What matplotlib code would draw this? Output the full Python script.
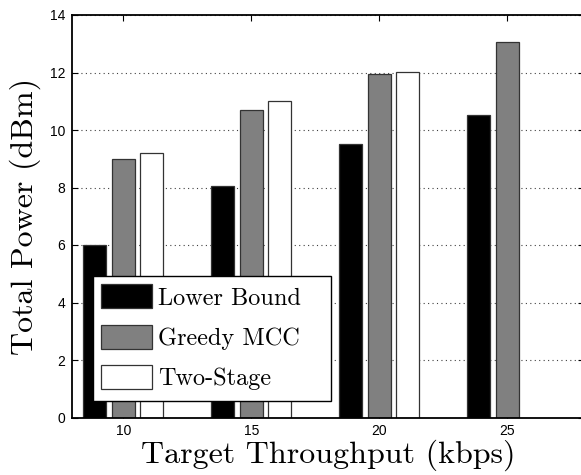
import numpy as np
import matplotlib

matplotlib.use("Agg")
import matplotlib.pyplot as plt
from matplotlib.patches import Rectangle

# data
throughput = [10, 15, 20, 25]
lower_bound = [6.0, 8.05, 9.5, 10.52]
greedy_mcc = [9.0, 10.7, 11.95, 13.05]
two_stage = [9.2, 11.0, 12.03, np.nan]  # no Two-Stage bar at 25 kbps

series = [
    ("Lower Bound", lower_bound, "black"),
    ("Greedy MCC", greedy_mcc, "#808080"),
    ("Two-Stage", two_stage, "white"),
]

fig = plt.figure(figsize=(5.81, 4.75), dpi=100)
ax = fig.add_axes([72 / 581, 1 - 417.5 / 475, 512 / 581, 402.5 / 475])

x = np.array(throughput, dtype=float)
offset = 1.11
width = 0.9
for i, (label, vals, color) in enumerate(series):
    ax.bar(x + (i - 1) * offset, vals, width, color=color,
           edgecolor="#333333", linewidth=0.9, label=label, zorder=2)

ax.set_xlim(8, 28)
ax.set_ylim(0, 14)
ax.set_xticks(throughput)
ax.set_yticks(np.arange(0, 15, 2))
ax.tick_params(direction="in", top=True, right=True, length=4, width=0.8,
               labelsize=10, pad=5)
for lab in ax.get_xticklabels() + ax.get_yticklabels():
    lab.set_fontfamily("Liberation Sans")
ax.yaxis.grid(True, linestyle=(0, (1, 3)), color="0.25", linewidth=0.8, zorder=0)
ax.set_axisbelow(True)
for sp in ax.spines.values():
    sp.set_linewidth(1.3)

ax.set_xlabel("Target Throughput (kbps)", fontfamily="cmr10", fontsize=23, labelpad=1)
ax.set_ylabel("Total Power (dBm)", fontfamily="cmr10", fontsize=23, labelpad=6)

# MATLAB-style legend box: wider on the right than the entries need
box = (0.0404, 0.041, 0.465, 0.311)
ax.add_patch(Rectangle(box[:2], box[2], box[3], transform=ax.transAxes,
                       facecolor="white", edgecolor="black", linewidth=1.0,
                       zorder=4))
leg = ax.legend(loc="upper left", bbox_to_anchor=(box[0], box[1] + box[3]),
                borderaxespad=0, prop={"family": "cmr10", "size": 17.5},
                frameon=False, handlelength=2.1, handleheight=1.15,
                handletextpad=0.25, labelspacing=0.62, borderpad=0.35)
leg.set_zorder(5)

fig.savefig("out.png", dpi=100)
